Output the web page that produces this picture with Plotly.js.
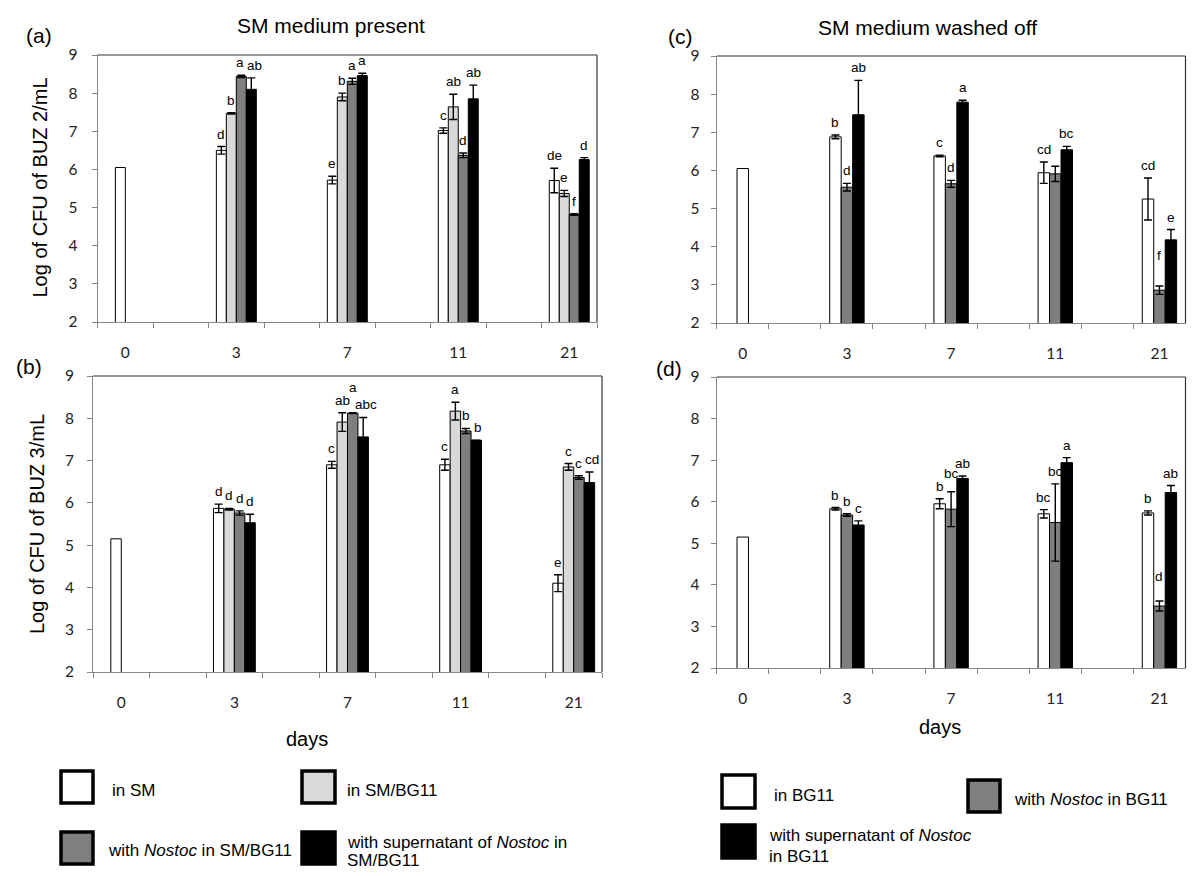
<!DOCTYPE html>
<html>
<head>
<meta charset="utf-8">
<script src="https://cdn.plot.ly/plotly-3.0.1.min.js"></script>
<style>
html,body{margin:0;padding:0;background:#ffffff;}
#chart{width:1200px;height:876px;}
</style>
</head>
<body>
<div id="chart"></div>
<script>
// ---------------- DATA ----------------
// x-axis slots: day labels with empty spacer categories between them
const axisCats = ['0', ' ', '3', '  ', '7', '   ', '11', '    ', '21'];
const day0 = ['0'];
const days = ['3', '7', '11', '21'];

// Panel (a) - BUZ 2, SM medium present
const a_day0 = [6.05];
const a_inSM = [6.50, 5.72, 7.02, 5.71];
const a_inSM_err = [0.10, 0.10, 0.07, 0.32];
const a_inSMBG = [7.47, 7.90, 7.64, 5.37];
const a_inSMBG_err = [0.02, 0.10, 0.33, 0.08];
const a_nostoc = [8.44, 8.31, 6.37, 4.82];
const a_nostoc_err = [0.03, 0.08, 0.06, 0.02];
const a_super = [8.10, 8.46, 7.85, 6.26];
const a_super_err = [0.30, 0.06, 0.36, 0.05];
const a_let_inSM = ['d', 'e', 'c', 'de'];
const a_let_inSMBG = ['b', 'b', 'ab', 'e'];
const a_let_nostoc = ['a', 'a', 'd', 'f'];
const a_let_super = ['ab', 'a', 'ab', 'd'];

// Panel (b) - BUZ 3, SM medium present
const b_day0 = [5.15];
const b_inSM = [5.87, 6.90, 6.90, 4.10];
const b_inSM_err = [0.10, 0.08, 0.13, 0.20];
const b_inSMBG = [5.85, 7.91, 8.17, 6.85];
const b_inSMBG_err = [0.02, 0.22, 0.21, 0.08];
const b_nostoc = [5.76, 8.12, 7.70, 6.60];
const b_nostoc_err = [0.05, 0.01, 0.06, 0.04];
const b_super = [5.53, 7.56, 7.48, 6.48];
const b_super_err = [0.20, 0.46, 0.00, 0.25];
const b_let_inSM = ['d', 'c', 'c', 'e'];
const b_let_inSMBG = ['d', 'ab', 'a', 'c'];
const b_let_nostoc = ['d', 'a', 'b', 'c'];
const b_let_super = ['d', 'abc', 'b', 'cd'];

// Panel (c) - BUZ 2, SM medium washed off
const c_day0 = [6.05];
const c_inBG = [6.88, 6.38, 5.94, 5.25];
const c_inBG_err = [0.05, 0.02, 0.28, 0.55];
const c_nostoc = [5.56, 5.65, 5.91, 2.86];
const c_nostoc_err = [0.10, 0.09, 0.20, 0.11];
const c_super = [7.46, 7.79, 6.54, 4.18];
const c_super_err = [0.90, 0.05, 0.09, 0.27];
const c_let_inBG = ['b', 'c', 'cd', 'cd'];
const c_let_nostoc = ['d', 'd', '', 'f'];
const c_let_super = ['ab', 'a', 'bc', 'e'];

// Panel (d) - BUZ 3, SM medium washed off
const d_day0 = [5.15];
const d_inBG = [5.83, 5.95, 5.71, 5.73];
const d_inBG_err = [0.03, 0.12, 0.10, 0.05];
const d_nostoc = [5.68, 5.82, 5.50, 3.49];
const d_nostoc_err = [0.03, 0.42, 0.93, 0.12];
const d_super = [5.44, 6.56, 6.94, 6.22];
const d_super_err = [0.10, 0.06, 0.12, 0.17];
const d_let_inBG = ['b', 'b', 'bc', 'b'];
const d_let_nostoc = ['b', 'bc', 'bc', 'd'];
const d_let_super = ['c', 'ab', 'a', 'ab'];

// text
const titleLeft = 'SM medium present';
const titleRight = 'SM medium washed off';
const yTitleA = 'Log of CFU of BUZ 2/mL';
const yTitleB = 'Log of CFU of BUZ 3/mL';
const xTitle = 'days';
const legLeft = ['in SM', 'in SM/BG11', 'with <i>Nostoc</i> in SM/BG11', 'with supernatant of <i>Nostoc</i> in', 'SM/BG11'];
const legRight = ['in BG11', 'with <i>Nostoc</i> in BG11', 'with supernatant of <i>Nostoc</i>', 'in BG11'];

// ---------------- STYLE ----------------
const W = 1200, H = 876;
const px = x => x / W;
const py = y => 1 - y / H;
const C_WHITE = '#ffffff', C_LIGHT = '#d9d9d9', C_GRAY = '#7f7f7f', C_BLACK = '#000000';
const AX_GRAY = '#868686';
const SANS = 'Liberation Sans, Arial, sans-serif';
const TICKF = 'Lato, Carlito, Calibri, sans-serif';

// letter nudges in px: key 'series-day' -> [dx, dy]
const panels = [
  { xa: 'x', ya: 'y', box: [97.6, 597, 55, 322], w: 0.18, ystand: 11, day0: a_day0,
    series: [
      { y: a_inSM, e: a_inSM_err, c: C_WHITE, l: a_let_inSM },
      { y: a_inSMBG, e: a_inSMBG_err, c: C_LIGHT, l: a_let_inSMBG },
      { y: a_nostoc, e: a_nostoc_err, c: C_GRAY, l: a_let_nostoc },
      { y: a_super, e: a_super_err, c: C_BLACK, l: a_let_super }
    ], nudge: { '3-0': [3, 0], '2-0': [-1, 0] } },
  { xa: 'x2', ya: 'y2', box: [93, 602, 376, 672], w: 0.185, ystand: 10, day0: b_day0,
    series: [
      { y: b_inSM, e: b_inSM_err, c: C_WHITE, l: b_let_inSM },
      { y: b_inSMBG, e: b_inSMBG_err, c: C_LIGHT, l: b_let_inSMBG },
      { y: b_nostoc, e: b_nostoc_err, c: C_GRAY, l: b_let_nostoc },
      { y: b_super, e: b_super_err, c: C_BLACK, l: b_let_super }
    ], nudge: { '2-1': [0, 13], '3-1': [3, 0], '3-3': [3, 0], '3-2': [2, 0] } },
  { xa: 'x3', ya: 'y3', box: [716.7, 1185.5, 56, 323], w: 0.22, ystand: 8, day0: c_day0,
    series: [
      { y: c_inBG, e: c_inBG_err, c: C_WHITE, l: c_let_inBG },
      { y: c_nostoc, e: c_nostoc_err, c: C_GRAY, l: c_let_nostoc },
      { y: c_super, e: c_super_err, c: C_BLACK, l: c_let_super }
    ], nudge: { '1-3': [0, 18] } },
  { xa: 'x4', ya: 'y4', box: [716.7, 1185.5, 377, 668], w: 0.22, ystand: 8, day0: d_day0,
    series: [
      { y: d_inBG, e: d_inBG_err, c: C_WHITE, l: d_let_inBG },
      { y: d_nostoc, e: d_nostoc_err, c: C_GRAY, l: d_let_nostoc },
      { y: d_super, e: d_super_err, c: C_BLACK, l: d_let_super }
    ], nudge: { '1-3': [0, 12], '1-1': [0, 6] } }
];

const traces = [];
const annotations = [];
const shapes = [];
const layout = {
  width: W, height: H,
  margin: { l: 0, r: 0, t: 0, b: 0 },
  paper_bgcolor: '#ffffff', plot_bgcolor: '#ffffff',
  showlegend: false, barmode: 'overlay',
  font: { family: SANS, color: '#000' }
};

panels.forEach(p => {
  const n = p.series.length;
  const w = p.w;
  const base = -n * w / 2;
  // day 0 bar (second slot)
  traces.push({
    type: 'bar', x: day0, y: p.day0, xaxis: p.xa, yaxis: p.ya,
    offset: base + w, width: w,
    marker: { color: C_WHITE, line: { color: '#000', width: 1 } },
    hoverinfo: 'x+y'
  });
  p.series.forEach((s, i) => {
    const off = base + i * w;
    traces.push({
      type: 'bar', x: days, y: s.y, xaxis: p.xa, yaxis: p.ya,
      offset: off, width: w,
      marker: { color: s.c, line: { color: '#000', width: 1 } },
      error_y: { type: 'data', array: s.e, visible: true, color: '#000', thickness: 1.4, width: 4 },
      hoverinfo: 'x+y'
    });
    s.l.forEach((txt, j) => {
      if (!txt) return;
      const nd = p.nudge[i + '-' + j] || [0, 0];
      annotations.push({
        xref: p.xa, yref: p.ya,
        x: axisCats.indexOf(days[j]) + off + w / 2,
        y: s.y[j] + s.e[j],
        text: txt, showarrow: false,
        xanchor: 'center', yanchor: 'bottom', xshift: nd[0], yshift: 3 + nd[1],
        font: { family: SANS, size: 13.5, color: '#000' }
      });
    });
  });
  const xk = 'xaxis' + p.xa.slice(1);
  const yk = 'yaxis' + p.ya.slice(1);
  const [x0, x1, y0, y1] = p.box;
  layout[xk] = {
    type: 'category', categoryorder: 'array', categoryarray: axisCats,
    range: [-0.5, axisCats.length - 0.5],
    domain: [px(x0), px(x1)], anchor: p.ya,
    tickson: 'boundaries', ticks: 'outside', ticklen: 5, tickcolor: AX_GRAY, tickwidth: 1,
    showline: true, linecolor: AX_GRAY, linewidth: 1,
    showgrid: false, zeroline: false, fixedrange: true,
    ticklabelstandoff: 16,
    tickfont: { family: TICKF, size: 15.5, color: '#222' }
  };
  layout[yk] = {
    range: [2, 9], dtick: 1, tick0: 0,
    domain: [py(y1), py(y0)], anchor: p.xa,
    ticks: 'outside', ticklen: 5, tickcolor: AX_GRAY, tickwidth: 1,
    showline: true, linecolor: AX_GRAY, linewidth: 1,
    showgrid: false, zeroline: false, fixedrange: true,
    ticklabelstandoff: p.ystand,
    tickfont: { family: TICKF, size: 15.5, color: '#222' }
  };
  // top and right frame of the plot area
  shapes.push({ type: 'line', xref: p.xa + ' domain', yref: p.ya + ' domain', x0: 0, x1: 1, y0: 1, y1: 1, line: { color: '#333', width: 1.2 } });
  shapes.push({ type: 'line', xref: p.xa + ' domain', yref: p.ya + ' domain', x0: 1, x1: 1, y0: 0, y1: 1, line: { color: '#333', width: 1.2 } });
});

function txt(text, x, y, size, opts) {
  annotations.push(Object.assign({
    xref: 'paper', yref: 'paper', x: px(x), y: py(y), text: text, showarrow: false,
    xanchor: 'center', yanchor: 'middle', font: { family: SANS, size: size, color: '#000' }
  }, opts || {}));
}
// titles and labels
txt(titleLeft, 331, 26, 21);
txt(titleRight, 927, 27, 21);
txt('(a)', 39, 35, 21);
txt('(b)', 29, 366, 21);
txt('(c)', 680, 37, 21);
txt('(d)', 669, 368, 21);
txt(yTitleA, 39.5, 188, 20, { textangle: -90 });
txt(yTitleB, 37, 524, 20, { textangle: -90 });
txt(xTitle, 307, 739, 20);
txt(xTitle, 940, 727, 20);

// legend swatches + labels
function swatch(x0, y0, x1, y1, fill) {
  shapes.push({ type: 'rect', xref: 'paper', yref: 'paper', x0: px(x0), x1: px(x1), y0: py(y1), y1: py(y0),
    fillcolor: fill, line: { color: '#000', width: 3.5 } });
}
const LEG = 17;
const left = { xanchor: 'left' };
swatch(61, 771, 93, 803, C_WHITE);   txt(legLeft[0], 110, 790, LEG, left);
swatch(302, 771, 335, 803, C_LIGHT); txt(legLeft[1], 345, 790, LEG, left);
swatch(61, 832, 93, 864, C_GRAY);    txt(legLeft[2], 106, 850, LEG, left);
swatch(302, 832, 335, 864, C_BLACK); txt(legLeft[3], 345, 842, LEG, left); txt(legLeft[4], 345, 860, LEG, left);

swatch(722, 775, 755, 808, C_WHITE); txt(legRight[0], 772, 795, LEG, left);
swatch(968, 780, 1000, 812, C_GRAY); txt(legRight[1], 1012, 799, LEG, left);
swatch(722, 825, 755, 858, C_BLACK); txt(legRight[2], 767, 835, LEG, left); txt(legRight[3], 767, 856, LEG, left);

layout.annotations = annotations;
layout.shapes = shapes;

Plotly.newPlot('chart', traces, layout, { staticPlot: true, displayModeBar: false });
</script>
</body>
</html>
